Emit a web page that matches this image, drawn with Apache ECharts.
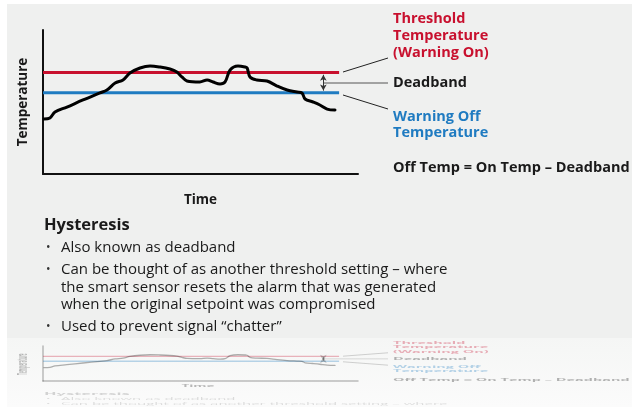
<!DOCTYPE html>
<html>
<head>
<meta charset="utf-8">
<script src="https://cdn.jsdelivr.net/npm/echarts@6/dist/echarts.min.js"></script>
<style>
html,body{margin:0;padding:0;background:#fff;}
#chart{width:632px;height:407px;}
</style>
</head>
<body>
<div id="chart"></div>
<script>
// ---- data (axis units are arbitrary 0-100) ----
const timeVals = [0.3,2.2,3.8,7.6,12.7,18.1,20.3,22.9,25.4,27.6,30.8,34,37.1,40.3,42.5,44.1,45.7,49.8,52.1,54,56.2,57.8,59.4,61.9,64.1,64.8,65.7,67.9,71.1,74.3,77.5,80.6,82.2,83.2,85.7,87.9,90.2,92.7];
const tempVals = [38.2,38.9,43,46.5,51.4,56.3,58.3,63.2,65.3,70.1,73.6,75,74.3,72.9,70.8,67.4,64.6,63.9,65.3,63.9,62.5,63.9,72.2,75,74.3,73.6,67.4,65.3,64.6,61.1,58.3,56.9,56.3,52.1,50,47.9,45.1,44.4];
const onTemp = 70.5;        // threshold temperature (warning on)
const offTemp = 56.5;       // warning off temperature
const lineStart = 0;
const lineEnd = 94;
const deadbandX = 89;
const axisNames = {x: 'Time', y: 'Temperature'};
const labelOn = 'Threshold\nTemperature\n(Warning On)';
const labelDead = 'Deadband';
const labelOff = 'Warning Off\nTemperature';
const formula = 'Off Temp = On Temp \u2013 Deadband';
const heading = 'Hysteresis';
const bullets = [
  'Also known as deadband',
  'Can be thought of as another threshold setting \u2013 where\nthe smart sensor resets the alarm that was generated\nwhen the original setpoint was compromised',
  'Used to prevent signal \u201cchatter\u201d'
];

const FONT = '"Open Sans", "Noto Sans", sans-serif';
const RED = '#c8102e', BLUE = '#1f7bc1';
const curve = timeVals.map((t, i) => [t, tempVals[i]]);

// overlay graphics (texts & leader lines) in panel coordinates
function overlay(faint) {
  const o = faint ? 0.32 : 1;
  const els = [
    {type:'line', shape:{x1:343,y1:72,x2:388,y2:58}, style:{stroke:'#222',lineWidth:1,opacity:o}},
    {type:'line', shape:{x1:323,y1:83,x2:388,y2:83}, style:{stroke:'#555',lineWidth:1,opacity:o}},
    {type:'line', shape:{x1:343,y1:95,x2:388,y2:109}, style:{stroke:'#222',lineWidth:1,opacity:o}},
    {type:'text', x:393, y:10.5, style:{text:labelOn, fill:RED, font:'bold 14.5px '+FONT, lineHeight:17, opacity:o}},
    {type:'text', x:393, y:83, style:{text:labelDead, fill:'#1a1a1a', font:'bold 14.5px '+FONT, verticalAlign:'middle', opacity:o}},
    {type:'text', x:393, y:108.5, style:{text:labelOff, fill:BLUE, font:'bold 14.5px '+FONT, lineHeight:16.5, opacity:o}},
    {type:'text', x:393, y:168, style:{text:formula, fill:'#1a1a1a', font:'bold 14.5px '+FONT, verticalAlign:'middle', opacity:o}},
    {type:'text', x:44, y:225, style:{text:heading, fill:'#1a1a1a', font:'bold 16.5px '+FONT, verticalAlign:'middle', opacity:faint?0.18:1}}
  ];
  const centers = [248, 270, 327];
  bullets.forEach((b, i) => {
    const op = faint ? 0.14 : 1;
    els.push({type:'text', x:46, y:centers[i], style:{text:'\u2022', fill:'#333', font:'12px '+FONT, verticalAlign:'middle', opacity:op}});
    els.push({type:'text', x:61, y:centers[i]-8.75, style:{text:b, fill:'#1a1a1a', font:'15px '+FONT, lineHeight:17.5, verticalAlign:'top', opacity:op}});
  });
  if (faint) {
    els.push({type:'text', x:23, y:105, rotation:Math.PI/2, style:{text:axisNames.y, fill:'#1a1a1a', font:'bold 13.5px '+FONT, align:'center', verticalAlign:'middle', opacity:0.3}});
    els.push({type:'text', x:198, y:193, style:{text:axisNames.x, fill:'#1a1a1a', font:'bold 13.5px '+FONT, align:'center', verticalAlign:'middle', opacity:0.3}});
  }
  return els;
}

const chart = echarts.init(document.getElementById('chart'), null, {renderer:'canvas'});

function axisPair(idx, faint) {
  const lineCol = faint ? 'rgba(0,0,0,0.25)' : '#111';
  return {
    x: {type:'value', gridIndex:idx, min:0, max:100, axisLine:{show:true, lineStyle:{color:lineCol, width:faint?1.5:2}}, axisTick:{show:false}, axisLabel:{show:false}, splitLine:{show:false},
        name: faint ? '' : axisNames.x, nameLocation:'middle', nameGap:19, nameTextStyle:{fontFamily:FONT, fontWeight:'bold', fontSize:13.5, color:'#1a1a1a'}},
    y: {type:'value', gridIndex:idx, min:0, max:100, axisLine:{show:true, onZero:false, lineStyle:{color:lineCol, width:faint?1.5:2}}, axisTick:{show:false}, axisLabel:{show:false}, splitLine:{show:false},
        name: faint ? '' : axisNames.y, nameLocation:'middle', nameGap:13, nameRotate:90, nameTextStyle:{fontFamily:FONT, fontWeight:'bold', fontSize:13.5, color:'#1a1a1a'}}
  };
}
const a0 = axisPair(0, false), a1 = axisPair(1, true);

function seriesFor(idx, faint) {
  const o = faint ? 0.3 : 1;
  const w = faint ? 1.3 : 3;
  return [
    {type:'line', xAxisIndex:idx, yAxisIndex:idx, data:[[lineStart,onTemp],[lineEnd,onTemp]], symbol:'none', lineStyle:{color:RED, width:w, opacity:o}, silent:true, z:2},
    {type:'line', xAxisIndex:idx, yAxisIndex:idx, data:[[lineStart,offTemp],[lineEnd,offTemp]], symbol:'none', lineStyle:{color:BLUE, width:w, opacity:o}, silent:true, z:2},
    {type:'line', xAxisIndex:idx, yAxisIndex:idx, data:curve, symbol:'none', smooth:0.35, lineStyle:{color:'#000', width:w, opacity:o, cap:'round', join:'round'}, silent:true, z:3,
      markLine: {silent:true, symbol:['arrow','arrow'], symbolSize:[5,6], label:{show:false},
        lineStyle:{color:'#333', width:1, type:'solid', opacity:o},
        data:[[{coord:[deadbandX, onTemp-1.6]},{coord:[deadbandX, offTemp+1.4]}]]}}
  ];
}

chart.setOption({
  backgroundColor:'#ffffff',
  animation:false,
  grid:[
    {left:43, top:30, width:315, height:144},
    {left:43, top:346, width:315, height:35}
  ],
  xAxis:[a0.x, a1.x],
  yAxis:[a0.y, a1.y],
  series: seriesFor(0,false).concat(seriesFor(1,true)),
  graphic:[
    {type:'rect', shape:{x:7,y:4,width:625,height:334}, style:{fill:'#eff0ef'}, z:-10, silent:true},
    {type:'rect', shape:{x:7,y:338,width:625,height:69}, style:{fill:new echarts.graphic.LinearGradient(0,0,0,1,[{offset:0,color:'#f5f6f5'},{offset:1,color:'#fbfbfb'}])}, z:-10, silent:true},
    {type:'group', x:0, y:0, children: overlay(false), silent:true},
    {type:'group', x:0, y:338.7, scaleY:0.243, children: overlay(true), silent:true}
  ]
});
</script>
</body>
</html>
